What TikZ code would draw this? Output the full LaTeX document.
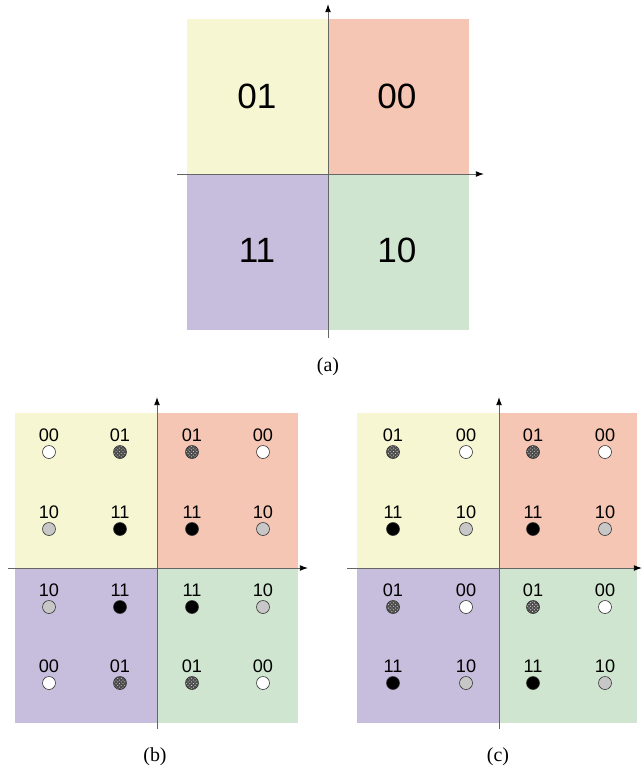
\documentclass[tikz,border=0pt]{standalone}
\usepackage{fontspec}
\setmainfont{Liberation Sans}
\newfontfamily\capfont{Liberation Serif}
\usetikzlibrary{arrows.meta,patterns}

\definecolor{qyellow}{HTML}{F7F6D3}
\definecolor{qred}{HTML}{F5C6B3}
\definecolor{qpurple}{HTML}{C6BEDC}
\definecolor{qgreen}{HTML}{CFE5CF}

\begin{document}
\begin{tikzpicture}[
    x=0.03cm, y=-0.03cm,
    axis/.style={-{Latex[length=7pt,width=5pt,color=black]}, draw=black!60, line width=0.8pt},
    big/.style={font=\fontsize{30}{32}\selectfont},
    lbl/.style={font=\fontsize{15.5}{16}\selectfont, inner sep=0pt},
    caption/.style={font=\capfont\fontsize{17}{19}\selectfont},
    sym/.style={circle, draw=black!80, line width=0.5pt, minimum size=0.39cm, inner sep=0pt},
    s00/.style={sym, fill=white},
    s01/.style={sym, preaction={fill=black!70}, pattern=crosshatch dots, pattern color=white!85!black},
    s10/.style={sym, fill=black!22},
    s11/.style={sym, fill=black}
  ]
    \useasboundingbox (0,0) rectangle (643,775);

    % (a)
    \fill[qyellow] (187,19) rectangle (328,174);
    \fill[qred] (328,19) rectangle (469,174);
    \fill[qpurple] (187,174) rectangle (328,330);
    \fill[qgreen] (328,174) rectangle (469,330);
    \coordinate (a-o) at (328,174);
    \coordinate (a-l) at (177,174);
    \coordinate (a-r) at (484,174);
    \coordinate (a-b) at (328,338);
    \coordinate (a-t) at (328,4);
    \draw[axis] (a-l) -- (a-r);
    \draw[axis] (a-b) -- (a-t);
    \node[big] (a01) at (257,96) {01};
    \node[big] (a00) at (397,96) {00};
    \node[big] (a11) at (257,250) {11};
    \node[big] (a10) at (397,250) {10};
    \node[caption] (capa) at (328,367) {(a)};

    % (b)
    \fill[qyellow] (15,413) rectangle (157,568);
    \fill[qred] (157,413) rectangle (298,568);
    \fill[qpurple] (15,568) rectangle (157,723);
    \fill[qgreen] (157,568) rectangle (298,723);
    \coordinate (b-l) at (8,568);
    \coordinate (b-r) at (308,568);
    \coordinate (b-b) at (157,729);
    \coordinate (b-t) at (157,397);
    \draw[axis] (b-l) -- (b-r);
    \draw[axis] (b-b) -- (b-t);
    \foreach \x/\y/\c [count=\i] in {
        49/452/00, 120/452/01, 192/452/01, 263/452/00,
        49/529/10, 120/529/11, 192/529/11, 263/529/10,
        49/607/10, 120/607/11, 192/607/11, 263/607/10,
        49/683/00, 120/683/01, 192/683/01, 263/683/00} {
      \node[s\c] (b\i) at (\x,\y) {};
      \node[lbl, anchor=south] (bl\i) at ([yshift=3pt]b\i.north) {\c};
    }
    \node[caption] (capb) at (155,757) {(b)};

    % (c)
    \fill[qyellow] (357,413) rectangle (499,568);
    \fill[qred] (499,413) rectangle (637,568);
    \fill[qpurple] (357,568) rectangle (499,723);
    \fill[qgreen] (499,568) rectangle (637,723);
    \coordinate (c-l) at (347,568);
    \coordinate (c-r) at (642,568);
    \coordinate (c-b) at (499,729);
    \coordinate (c-t) at (499,397);
    \draw[axis] (c-l) -- (c-r);
    \draw[axis] (c-b) -- (c-t);
    \foreach \x/\y/\c [count=\i] in {
        393/452/01, 466/452/00, 533/452/01, 605/452/00,
        393/529/11, 466/529/10, 533/529/11, 605/529/10,
        393/607/01, 466/607/00, 533/607/01, 605/607/00,
        393/683/11, 466/683/10, 533/683/11, 605/683/10} {
      \node[s\c] (c\i) at (\x,\y) {};
      \node[lbl, anchor=south] (cl\i) at ([yshift=3pt]c\i.north) {\c};
    }
    \node[caption] (capc) at (498,757) {(c)};
  \end{tikzpicture}
\end{document}
